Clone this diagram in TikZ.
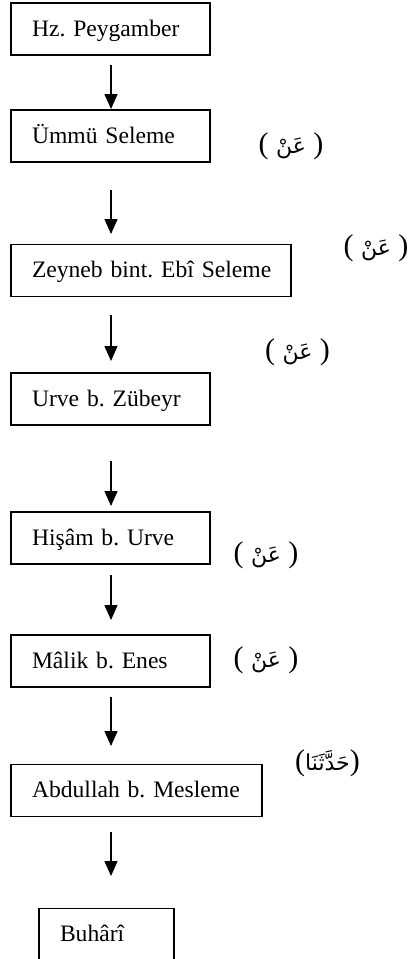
\documentclass[tikz,border=0pt]{standalone}
\usepackage{fontspec}
\setmainfont{Liberation Serif}
\newfontfamily\arabicfont[Script=Arabic]{DejaVu Sans}
\TeXXeTstate=1
\frenchspacing
\hyphenpenalty=10000
\newcommand{\arbtext}[1]{{\arabicfont\fontsize{22}{26}\selectfont\beginR #1\endR}}
\usetikzlibrary{arrows.meta}
\begin{document}
\begin{tikzpicture}[x=1pt,y=-1pt,
  namebox/.style={draw, line width=1.8pt, rectangle, inner xsep=21pt, inner ysep=0pt,
    minimum height=52pt, text height=16pt, text depth=2pt, align=left,
    font=\fontsize{23.6}{26}\selectfont},
  lab/.style={inner sep=0pt, font=\fontsize{30}{32}\selectfont},
  flow/.style={line width=1.4pt, -{Triangle[length=15pt,width=13pt]}}]
\clip (0,0) rectangle (408,959);
\useasboundingbox (0,0) rectangle (408,959);
\fill[white] (0,0) rectangle (408,959);

\node[namebox, text width=157pt] (n1) at (110.5,29) {Hz. Peygamber};
\node[namebox, text width=157pt] (n2) at (110.5,136) {Ümmü Seleme};
\node[namebox, text width=238pt] (n3) at (151,270.5) {\mbox{Zeyneb bint. Ebî Seleme}};
\node[namebox, text width=157pt] (n4) at (110.5,399) {Urve b. Zübeyr};
\node[namebox, text width=157pt] (n5) at (110.5,538) {Hişâm b. Urve};
\node[namebox, text width=157pt] (n6) at (110.5,661) {Mâlik b. Enes};
\node[namebox, text width=209pt] (n7) at (136.5,790.5) {\mbox{Abdullah b. Mesleme}};
\node[namebox, text width=93pt] (n8) at (106.5,934.5) {Buhârî};

\node[lab] (l2) at (291,146) {( \arbtext{عَنْ} )};
\node[lab] (l3) at (376,248) {( \arbtext{عَنْ} )};
\node[lab] (l4) at (297.5,352) {( \arbtext{عَنْ} )};
\node[lab] (l5) at (266,555) {( \arbtext{عَنْ} )};
\node[lab] (l6) at (266,660) {( \arbtext{عَنْ} )};
\node[lab] (l7) at (327.5,763) {(\arbtext{حَدَّثَنَا})};

\coordinate (a1s) at (111,65);  \coordinate (a1e) at (111,109);
\coordinate (a2s) at (111,190); \coordinate (a2e) at (111,234);
\coordinate (a3s) at (111,315); \coordinate (a3e) at (111,361);
\coordinate (a4s) at (111,461); \coordinate (a4e) at (111,506);
\coordinate (a5s) at (111,575); \coordinate (a5e) at (111,620);
\coordinate (a6s) at (111,697); \coordinate (a6e) at (111,746);
\coordinate (a7s) at (111,832); \coordinate (a7e) at (111,876);
\foreach \i in {1,...,7} { \draw[flow] (a\i s) -- (a\i e); }
\end{tikzpicture}
\end{document}
